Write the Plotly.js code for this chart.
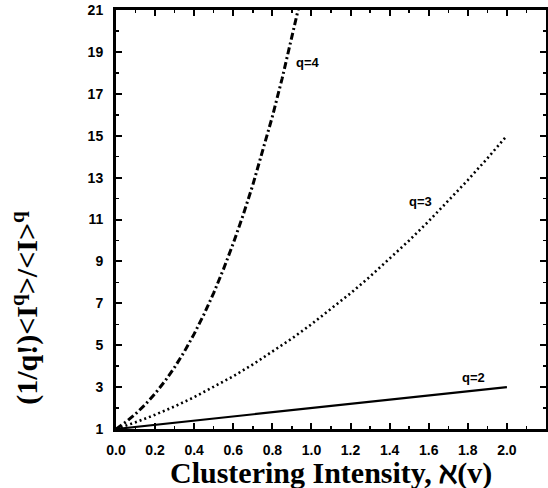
<!DOCTYPE html>
<html><head><meta charset="utf-8">
<script src="https://cdn.plot.ly/plotly-3.0.1.min.js"></script>
<style>body{margin:0;background:#fff}#c{width:548px;height:488px}</style>
</head><body><div id="c"></div>
<script>
// q=2 (solid)
var xQ2 = [0.0, 0.5, 1.0, 1.5, 2.0];
var yQ2 = [1.0, 1.5, 2.0, 2.5, 3.0];
// q=3 (dotted)
var xQ3 = [0.0, 0.1, 0.2, 0.3, 0.4, 0.5, 0.6, 0.7, 0.8, 0.9, 1.0, 1.1, 1.2, 1.3, 1.4, 1.5, 1.6, 1.7, 1.8, 1.9, 2.0];
var yQ3 = [1.0, 1.32, 1.68, 2.08, 2.52, 3.0, 3.52, 4.08, 4.68, 5.32, 6.0, 6.72, 7.48, 8.28, 9.12, 10.0, 10.92, 11.88, 12.88, 13.92, 15.0];
// q=4 (dash-dot)
var xQ4 = [0.0, 0.05, 0.1, 0.15, 0.2, 0.25, 0.3, 0.35, 0.4, 0.45, 0.5, 0.55, 0.6, 0.65, 0.7, 0.75, 0.8, 0.85, 0.9, 0.93, 0.94];
var yQ4 = [1.0, 1.33, 1.72, 2.17, 2.69, 3.28, 3.95, 4.70, 5.54, 6.47, 7.5, 8.63, 9.86, 11.2, 12.65, 14.22, 15.91, 17.73, 19.68, 20.92, 21.34];
// curve labels
var labelText = ["q=2", "q=3", "q=4"];
var labelX = [1.83, 1.56, 0.98];
var labelY = [3.48, 11.84, 18.5];
var xTickVals = [0, 0.2, 0.4, 0.6, 0.8, 1.0, 1.2, 1.4, 1.6, 1.8, 2.0];
var yTickVals = [1, 3, 5, 7, 9, 11, 13, 15, 17, 19, 21];
var xTitle = 'Clustering Intensity, ℵ(v)';
var yTitle = '(1/q!)&lt;I<sup>q</sup>&gt;/&lt;I&gt;<sup>q</sup>';

var traces = [
  {x: xQ2, y: yQ2, mode: 'lines', line: {color: '#000', width: 2.2, dash: 'solid'}},
  {x: xQ3, y: yQ3, mode: 'lines', line: {color: '#000', width: 2.6, dash: '2px,3px'}},
  {x: xQ4, y: yQ4, mode: 'lines', line: {color: '#000', width: 3, dash: '7px,3px,2px,3px'}}
];
var tickFont = {family: 'Liberation Sans, Arial, sans-serif', size: 14, color: '#000', weight: 'bold'};
var serif = 'Liberation Serif, Times New Roman, serif';
var annotations = labelText.map(function(t, i){
  return {x: labelX[i], y: labelY[i], xref: 'x', yref: 'y', text: '<b>' + t + '</b>', showarrow: false,
          font: {family: 'Liberation Sans, Arial, sans-serif', size: 13, color: '#000'}};
});
annotations.push({
  xref: 'paper', yref: 'paper', x: -0.212, y: 0.289, xanchor: 'center', yanchor: 'middle', textangle: -90,
  showarrow: false, text: '<b>' + yTitle + '</b>',
  font: {family: serif, size: 30, color: '#000'}
});
annotations.push({
  xref: 'paper', yref: 'paper', x: 0.5, y: -0.105, xanchor: 'center', yanchor: 'middle',
  showarrow: false, text: '<b>' + xTitle + '</b>',
  font: {family: serif, size: 30, color: '#000'}
});
var layout = {
  width: 548, height: 488,
  margin: {l: 116, r: 2, t: 10, b: 59},
  paper_bgcolor: '#fff', plot_bgcolor: '#fff',
  showlegend: false,
  font: {family: 'Liberation Sans, Arial, sans-serif', color: '#000'},
  xaxis: {
    range: [0, 2.2], tickvals: xTickVals, tickformat: '.1f',
    ticks: 'inside', ticklen: 6, tickwidth: 2, tickcolor: '#000',
    minor: {dtick: 0.1, tick0: 0, ticks: 'inside', ticklen: 3, tickwidth: 1.5, tickcolor: '#000'},
    showline: true, linewidth: 3, linecolor: '#000', mirror: 'allticks',
    showgrid: false, zeroline: false, tickfont: tickFont, ticklabelstandoff: 6
  },
  yaxis: {
    range: [1, 21], tickvals: yTickVals,
    ticks: 'inside', ticklen: 6, tickwidth: 2, tickcolor: '#000',
    minor: {dtick: 1, tick0: 1, ticks: 'inside', ticklen: 3, tickwidth: 1.5, tickcolor: '#000'},
    showline: true, linewidth: 3, linecolor: '#000', mirror: 'allticks',
    showgrid: false, zeroline: false, tickfont: tickFont, ticklabelstandoff: 7
  },
  annotations: annotations
};
Plotly.newPlot('c', traces, layout, {displayModeBar: false, staticPlot: true});
</script>
</body></html>
